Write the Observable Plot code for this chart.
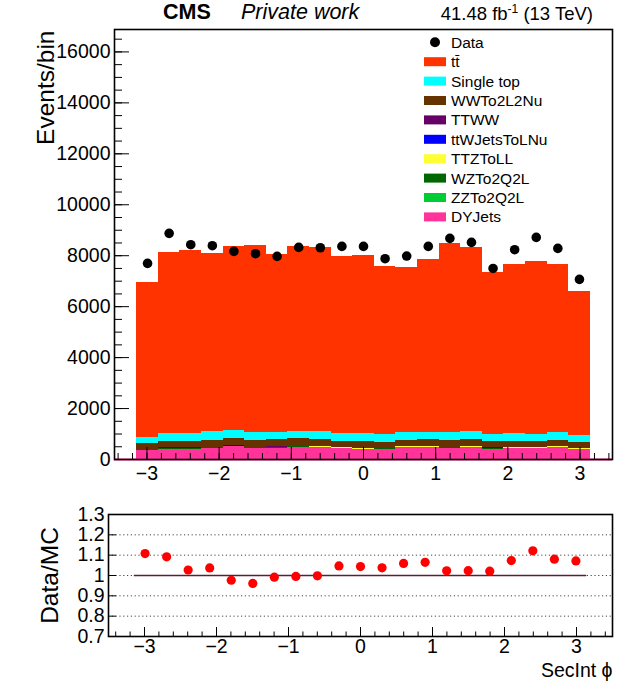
<!DOCTYPE html>
<html><head><meta charset="utf-8">
<script src="https://cdn.jsdelivr.net/npm/d3@7"></script>
<script src="https://cdn.jsdelivr.net/npm/@observablehq/plot@0.6"></script>
<style>
body{margin:0;background:#fff;font-family:"Liberation Sans",Arial,Helvetica,sans-serif;}
#wrap{position:relative;width:638px;height:695px;overflow:hidden;background:#fff;}
#main{position:absolute;left:0;top:0;}
#ratio{position:absolute;left:0;top:490px;}
svg.overlay{position:absolute;left:0;top:0;overflow:visible;}
</style></head>
<body>
<div id="wrap">
  <div id="main"></div>
  <div id="ratio"></div>
  <svg class="overlay" id="header" width="638" height="30"></svg>
  <svg class="overlay" id="legend" width="638" height="240"></svg>
</div>
<script>
// ---- data ----
const nBins = 21, xLow = -Math.PI, xHigh = Math.PI;
const procNames = ["tt\u0304", "Single top", "WWTo2L2Nu", "TTWW", "ttWJetsToLNu", "TTZToLL", "WZTo2Q2L", "ZZTo2Q2L", "DYJets"];
const procColors = ["#ff3300", "#00ffff", "#663300", "#660066", "#0000ff", "#ffff33", "#006600", "#00cc33", "#ff3399"];
const ttbar     = [6092,7100,7179,7009,7218,7349,6983,7258,7219,6958,6983,6604,6485,6800,7428,7219,6353,6643,6787,6617,5660];
const singleTop = [236,341,341,327,315,301,288,288,327,328,328,315,301,275,301,314,276,315,276,301,275];
const wwTo2L2Nu = [217,229,229,271,297,271,274,300,271,231,255,231,245,271,271,287,255,244,229,245,231];
const ttww      = [3,3,4,3,3,4,3,3,3,4,3,3,3,4,3,3,3,4,3,3,3];
const ttWJets   = [8,8,8,8,8,8,8,8,8,8,8,8,8,8,8,8,8,8,8,8,8];
const ttZToLL   = [15,30,30,15,15,15,15,15,15,15,30,15,15,15,15,15,30,15,30,15,15];
const wzTo2Q2L  = [12,12,12,12,12,12,22,22,12,12,12,12,12,12,12,22,12,12,12,12,12];
const zzTo2Q2L  = [6,6,6,6,6,6,6,6,6,6,6,6,6,6,6,6,6,6,6,6,6];
const dyJets    = [361,400,400,439,491,439,439,465,465,426,387,400,465,465,439,452,400,426,426,465,387];
const dataCounts= [7698,8877,8431,8392,8169,8078,7973,8326,8313,8365,8365,7882,7987,8365,8680,8523,7500,8235,8719,8287,7069];
const yTicksMain = [0,2000,4000,6000,8000,10000,12000,14000,16000];
const xTicks = [-3,-2,-1,0,1,2,3];
const yTicksRatio = [0.7,0.8,0.9,1.0,1.1,1.2,1.3];

const seriesList = [ttbar, singleTop, wwTo2L2Nu, ttww, ttWJets, ttZToLL, wzTo2Q2L, zzTo2Q2L, dyJets];
const binW = (xHigh - xLow) / nBins;
const edges = d3.range(nBins + 1).map(i => xLow + i * binW);
const centers = d3.range(nBins).map(i => xLow + (i + 0.5) * binW);

// stacked rows (bottom = last in legend)
const rows = [];
const totals = new Array(nBins).fill(0);
for (let i = 0; i < nBins; i++) {
  let acc = 0;
  for (let k = procNames.length - 1; k >= 0; k--) {
    const v = seriesList[k][i];
    rows.push({x1: edges[i], x2: edges[i + 1], y1: acc, y2: acc + v, proc: procNames[k]});
    acc += v;
  }
  totals[i] = acc;
}
const dataRows = centers.map((c, i) => ({x: c, y: dataCounts[i]}));
const ratioRows = centers.map((c, i) => ({x: c, y: dataCounts[i] / totals[i]}));

const font = '"Liberation Sans", Arial, Helvetica, sans-serif';
const fmtX = d => d < 0 ? "\u2212" + (-d) : String(d);
const minorX = d3.range(-34, 35, 2).map(d => d / 10);
const minorYMain = d3.range(0, 16880, 500);
const tickFont = 19.5;

const main = Plot.plot({
  width: 638, height: 490,
  marginLeft: 114, marginRight: 26, marginTop: 29, marginBottom: 31,
  x: {domain: [-3.45, 3.45]},
  y: {domain: [0, 16880]},
  color: {domain: procNames, range: procColors},
  style: {background: "white", fontFamily: font, fontSize: "18px", color: "black", overflow: "visible"},
  marks: [
    Plot.ruleY([0], {stroke: "#ff3399", strokeWidth: 2}),
    Plot.rect(rows, {x1: "x1", x2: "x2", y1: "y1", y2: "y2", fill: "proc", shapeRendering: "crispEdges"}),
    Plot.dot(dataRows, {x: "x", y: "y", r: 4.8, fill: "black"}),
    Plot.axisY(yTicksMain, {tickSize: -15, fill: "none", label: null, stroke: "black"}),
    Plot.axisY(minorYMain, {tickSize: -8, fill: "none", label: null, stroke: "black"}),
    Plot.axisY(yTicksMain, {tickSize: 0, tickPadding: 4, label: null, tickFormat: d3.format("d"), fontSize: tickFont, fill: "black"}),
    Plot.axisX(xTicks, {tickSize: -12, fill: "none", label: null, stroke: "black"}),
    Plot.axisX(minorX, {tickSize: -6, fill: "none", label: null, stroke: "black"}),
    Plot.axisX(xTicks, {tickSize: 0, tickPadding: 7, label: null, tickFormat: fmtX, fontSize: tickFont, fill: "black"}),
    Plot.frame({stroke: "black", strokeWidth: 1.6}),
    Plot.text(["Events/bin"], {frameAnchor: "top-left", rotate: -90, textAnchor: "end", lineAnchor: "bottom", dx: -61, dy: 1, fontSize: 24.5, fill: "black"})
  ]
});
document.getElementById("main").appendChild(main);

const ratio = Plot.plot({
  width: 638, height: 205,
  marginLeft: 108, marginRight: 26, marginTop: 24, marginBottom: 59,
  x: {domain: [-3.5, 3.5]},
  y: {domain: [0.7, 1.3]},
  style: {background: "white", fontFamily: font, fontSize: "18px", color: "black", overflow: "visible"},
  marks: [
    Plot.ruleY([0.8, 0.9, 1.0, 1.1, 1.2], {stroke: "#444", strokeDasharray: "1.2,2.6", strokeWidth: 1}),
    Plot.ruleY([1], {x1: xLow, x2: xHigh, stroke: "#5a1e3c", strokeWidth: 1.6}),
    Plot.dot(ratioRows, {x: "x", y: "y", r: 4.6, fill: "#ff0000"}),
    Plot.axisY(yTicksRatio, {tickSize: -8, fill: "none", label: null, stroke: "black"}),
    Plot.axisY(yTicksRatio, {tickSize: 0, tickPadding: 4, label: null, tickFormat: d => String(+d.toFixed(1)), fontSize: tickFont, fill: "black"}),
    Plot.axisX(xTicks, {tickSize: -9, fill: "none", label: null, stroke: "black"}),
    Plot.axisX(minorX, {tickSize: -4.5, fill: "none", label: null, stroke: "black"}),
    Plot.axisX(xTicks, {tickSize: 0, tickPadding: 3, label: null, tickFormat: fmtX, fontSize: tickFont, fill: "black"}),
    Plot.frame({stroke: "black", strokeWidth: 1.6}),
    Plot.text(["Data/MC"], {frameAnchor: "left", rotate: -90, textAnchor: "middle", lineAnchor: "bottom", dx: -51, fontSize: 24.5, fill: "black"}),
    Plot.text(["SecInt \u03d5"], {frameAnchor: "bottom-right", textAnchor: "end", lineAnchor: "middle", dy: 34, fontSize: 19.5, fill: "black"})
  ]
});
document.getElementById("ratio").appendChild(ratio);

// ---- header ----
const hdr = d3.select("#header").style("font-family", font);
hdr.append("text").attr("x", 163).attr("y", 19).attr("font-size", 21.5).attr("font-weight", "bold").text("CMS");
hdr.append("text").attr("x", 241).attr("y", 19).attr("font-size", 21.5).attr("font-style", "italic").text("Private work");
const lumi = hdr.append("text").attr("x", 593).attr("y", 20).attr("font-size", 18.5).attr("text-anchor", "end");
lumi.append("tspan").text("41.48 fb");
lumi.append("tspan").attr("dy", -7).attr("font-size", 12).text("-1");
lumi.append("tspan").attr("dy", 7).text(" (13 TeV)");

// ---- legend ----
const leg = d3.select("#legend").style("font-family", font);
const legY0 = 42.3, legStep = 19.4;
leg.append("circle").attr("cx", 435).attr("cy", legY0).attr("r", 5).attr("fill", "black");
leg.append("text").attr("x", 451).attr("y", legY0).attr("dy", "0.35em").attr("font-size", 15.5).text("Data");
procNames.forEach((n, k) => {
  const cy = legY0 + (k + 1) * legStep;
  leg.append("rect").attr("x", 424).attr("y", cy - 4.5).attr("width", 22).attr("height", 9).attr("fill", procColors[k]);
  leg.append("text").attr("x", 451).attr("y", cy).attr("dy", "0.35em").attr("font-size", 15.5).text(n);
});
</script>
</body></html>
